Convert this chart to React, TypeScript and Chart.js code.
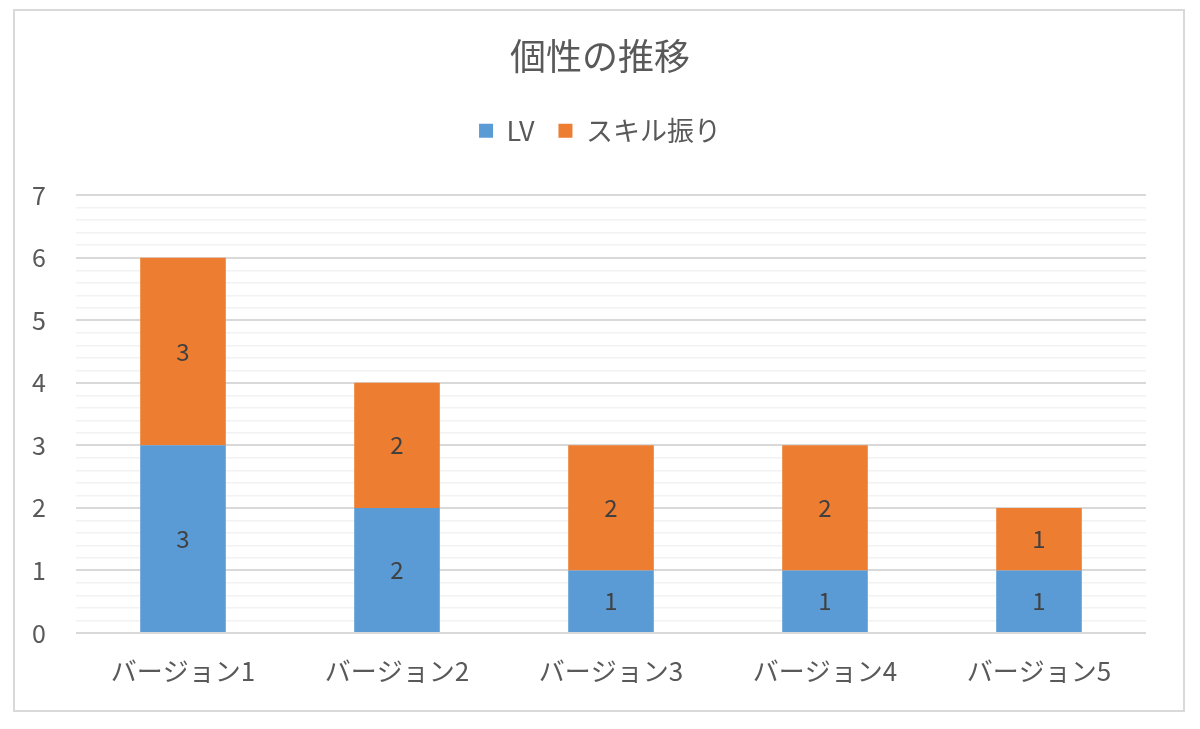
import { Chart, registerables } from 'chart.js';
import { useEffect, useRef } from 'react';

Chart.register(...registerables);

const categories = ['バージョン1', 'バージョン2', 'バージョン3', 'バージョン4', 'バージョン5'];
const lvValues = [3, 2, 1, 1, 1];
const skillValues = [3, 2, 2, 2, 1];
const seriesNames = ['LV', 'スキル振り'];

const FONT = '"Noto Sans CJK JP", "Noto Sans", sans-serif';

// draws the value in the middle of each bar segment, like Excel data labels
const barLabels = {
    id: 'barLabels',
    afterDatasetsDraw(chart: any) {
        const ctx = chart.ctx;
        ctx.save();
        ctx.font = `24px ${FONT}`;
        ctx.fillStyle = '#404040';
        ctx.textAlign = 'center';
        ctx.textBaseline = 'middle';
        chart.data.datasets.forEach((ds: any, i: number) => {
            chart.getDatasetMeta(i).data.forEach((bar: any, j: number) => {
                const { x, y, base } = bar.getProps(['x', 'y', 'base'], true);
                ctx.fillText(String(ds.data[j]), x, (y + base) / 2);
            });
        });
        ctx.restore();
    },
};

// outer chart-area frame
const frame = {
    id: 'frame',
    beforeDraw(chart: any) {
        const ctx = chart.ctx;
        ctx.save();
        ctx.fillStyle = '#ffffff';
        ctx.fillRect(0, 0, chart.width, chart.height);
        ctx.strokeStyle = '#D9D9D9';
        ctx.lineWidth = 2;
        ctx.strokeRect(14, 10, 1170, 701);
        ctx.restore();
    },
};

// extra room between the legend and the plot
const legendGap = {
    id: 'legendGap',
    afterInit(chart: any) {
        const lg = chart.legend;
        if (!lg) return;
        const fit = lg.fit.bind(lg);
        lg.fit = function () {
            fit();
            this.height += 41;
        };
    },
};

function App() {
    const canvasRef = useRef<HTMLCanvasElement>(null);
    const chartRef = useRef<Chart | null>(null);

    useEffect(() => {
        if (!canvasRef.current) return;
        if (chartRef.current) chartRef.current.destroy();

        chartRef.current = new Chart(canvasRef.current, {
            type: 'bar',
            data: {
                labels: categories,
                datasets: [
                    { label: seriesNames[0], data: lvValues, backgroundColor: '#5B9BD5', categoryPercentage: 1, barPercentage: 0.4 },
                    { label: seriesNames[1], data: skillValues, backgroundColor: '#ED7D31', categoryPercentage: 1, barPercentage: 0.4 },
                ],
            },
            options: {
                animation: false,
                responsive: true,
                maintainAspectRatio: false,
                layout: { padding: { left: 20, right: 20, top: 0, bottom: 0 } },
                scales: {
                    x: {
                        stacked: true,
                        grid: { display: false, drawTicks: false },
                        border: { display: false },
                        ticks: { color: '#595959', font: { family: FONT, size: 26 }, padding: 23 },
                        afterFit: (scale: any) => { scale.height = 96; },
                    },
                    y: {
                        stacked: true,
                        min: 0,
                        max: 7,
                        border: { display: false },
                        grid: {
                            drawTicks: false,
                            color: (c: any) => (Number.isInteger(Math.round(c.tick.value * 1000) / 1000) ? '#D9D9D9' : '#F2F2F2'),
                            lineWidth: (c: any) => (Number.isInteger(Math.round(c.tick.value * 1000) / 1000) ? 2 : 1.5),
                        },
                        ticks: {
                            stepSize: 0.2,
                            autoSkip: false,
                            color: '#595959',
                            font: { family: FONT, size: 25 },
                            padding: 30,
                            callback: (v: any) => {
                                const r = Math.round(Number(v) * 1000) / 1000;
                                return Number.isInteger(r) ? String(r) : '';
                            },
                        },
                        afterFit: (scale: any) => { scale.width = 56; },
                    },
                    // empty right-hand axis, only to keep the plot off the right edge
                    spacer: {
                        type: 'linear',
                        position: 'right',
                        grid: { display: false, drawTicks: false },
                        border: { display: false },
                        ticks: { display: false },
                        afterFit: (scale: any) => { scale.width = 34; },
                    },
                },
                plugins: {
                    title: {
                        display: true,
                        text: '個性の推移',
                        color: '#595959',
                        font: { family: FONT, size: 36, weight: 'normal' },
                        padding: { top: 35, bottom: 15 },
                    },
                    legend: {
                        position: 'top',
                        labels: {
                            color: '#595959',
                            font: { family: FONT, size: 27 },
                            boxWidth: 14,
                            boxHeight: 14,
                            padding: 24,
                        },
                    },
                    tooltip: { enabled: false },
                },
            },
            plugins: [frame, legendGap, barLabels],
        });

        return () => {
            if (chartRef.current) {
                chartRef.current.destroy();
                chartRef.current = null;
            }
        };
    }, []);

    return (
        <div style={{ position: 'fixed', left: 0, top: 0, width: 1200, height: 729, background: '#fff' }}>
            <canvas ref={canvasRef} />
        </div>
    );
}

export default App;
